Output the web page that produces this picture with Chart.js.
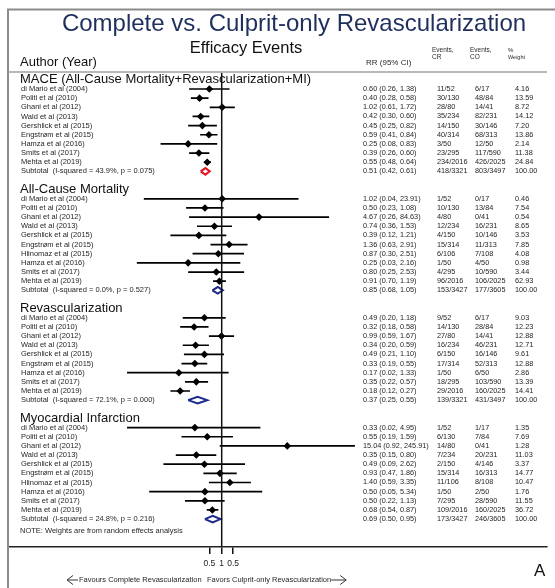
<!DOCTYPE html>
<html lang="en">
  <head>
    <meta charset="UTF-8" />
    <title>Complete vs. Culprit-only Revascularization</title>
    <style>
      body { margin: 0; background: #fff; }
      #wrap { width: 555px; height: 588px; }
    </style>
  </head>
  <body>
    <div id="wrap"><canvas id="myChart" width="555" height="588"></canvas></div>

    <script src="https://cdn.jsdelivr.net/npm/chart.js"></script>
    <script>
      // ---- data ----
      const sectionTitles = [
        "MACE (All-Cause Mortality+Revascularization+MI)",
        "All-Cause Mortality",
        "Revascularization",
        "Myocardial Infarction",
      ];

      // MACE
      const maceAuthors = [
        "di Mario et al (2004)", "Politi et al (2010)", "Ghani et al (2012)", "Wald et al (2013)",
        "Gershlick et al (2015)", "Engstrøm et al (2015)", "Hamza et al (2016)", "Smits et al (2017)",
        "Mehta et al (2019)", "Subtotal  (I-squared = 43.9%, p = 0.075)",
      ];
      const maceRR = [0.6, 0.4, 1.02, 0.42, 0.45, 0.59, 0.25, 0.39, 0.55, 0.51];
      const maceLow = [0.26, 0.28, 0.61, 0.3, 0.25, 0.41, 0.08, 0.26, 0.48, 0.42];
      const maceHigh = [1.38, 0.58, 1.72, 0.6, 0.82, 0.84, 0.83, 0.6, 0.64, 0.61];
      const maceCR = ["11/52", "30/130", "28/80", "35/234", "14/150", "40/314", "3/50", "23/295", "234/2016", "418/3321"];
      const maceCO = ["6/17", "48/84", "14/41", "82/231", "30/146", "68/313", "12/50", "117/590", "426/2025", "803/3497"];
      const maceWeight = ["4.16", "13.59", "8.72", "14.12", "7.20", "13.86", "2.14", "11.38", "24.84", "100.00"];

      // All-cause mortality
      const mortAuthors = [
        "di Mario et al (2004)", "Politi et al (2010)", "Ghani et al (2012)", "Wald et al (2013)",
        "Gershlick et al (2015)", "Engstrøm et al (2015)", "Hlinomaz et al (2015)", "Hamza et al (2016)",
        "Smits et al (2017)", "Mehta et al (2019)", "Subtotal  (I-squared = 0.0%, p = 0.527)",
      ];
      const mortRR = [1.02, 0.5, 4.67, 0.74, 0.39, 1.36, 0.87, 0.25, 0.8, 0.91, 0.85];
      const mortLow = [0.04, 0.23, 0.26, 0.36, 0.12, 0.63, 0.3, 0.03, 0.25, 0.7, 0.68];
      const mortHigh = [23.91, 1.08, 84.63, 1.53, 1.21, 2.91, 2.51, 2.16, 2.53, 1.19, 1.05];
      const mortCR = ["1/52", "10/130", "4/80", "12/234", "4/150", "15/314", "6/106", "1/50", "4/295", "96/2016", "153/3427"];
      const mortCO = ["0/17", "13/84", "0/41", "16/231", "10/146", "11/313", "7/108", "4/50", "10/590", "106/2025", "177/3605"];
      const mortWeight = ["0.46", "7.54", "0.54", "8.65", "3.53", "7.85", "4.08", "0.98", "3.44", "62.93", "100.00"];

      // Revascularization
      const revAuthors = [
        "di Mario et al (2004)", "Politi et al (2010)", "Ghani et al (2012)", "Wald et al (2013)",
        "Gershlick et al (2015)", "Engstrøm et al (2015)", "Hamza et al (2016)", "Smits et al (2017)",
        "Mehta et al (2019)", "Subtotal  (I-squared = 72.1%, p = 0.000)",
      ];
      const revRR = [0.49, 0.32, 0.99, 0.34, 0.49, 0.33, 0.17, 0.35, 0.18, 0.37];
      const revLow = [0.2, 0.18, 0.59, 0.2, 0.21, 0.19, 0.02, 0.22, 0.12, 0.25];
      const revHigh = [1.18, 0.58, 1.67, 0.59, 1.1, 0.55, 1.33, 0.57, 0.27, 0.55];
      const revCR = ["9/52", "14/130", "27/80", "16/234", "6/150", "17/314", "1/50", "18/295", "29/2016", "139/3321"];
      const revCO = ["6/17", "28/84", "14/41", "46/231", "16/146", "52/313", "6/50", "103/590", "160/2025", "431/3497"];
      const revWeight = ["9.03", "12.23", "12.88", "12.71", "9.61", "12.88", "2.86", "13.39", "14.41", "100.00"];

      // Myocardial infarction
      const miAuthors = [
        "di Mario et al (2004)", "Politi et al (2010)", "Ghani et al (2012)", "Wald et al (2013)",
        "Gershlick et al (2015)", "Engstrøm et al (2015)", "Hlinomaz et al (2015)", "Hamza et al (2016)",
        "Smits et al (2017)", "Mehta et al (2019)", "Subtotal  (I-squared = 24.8%, p = 0.216)",
      ];
      const miRR = [0.33, 0.55, 15.04, 0.35, 0.49, 0.93, 1.4, 0.5, 0.5, 0.68, 0.69];
      const miLow = [0.02, 0.19, 0.92, 0.15, 0.09, 0.47, 0.59, 0.05, 0.22, 0.54, 0.5];
      const miHigh = [4.95, 1.59, 245.91, 0.8, 2.62, 1.86, 3.35, 5.34, 1.13, 0.87, 0.95];
      const miCR = ["1/52", "6/130", "14/80", "7/234", "2/150", "15/314", "11/106", "1/50", "7/295", "109/2016", "173/3427"];
      const miCO = ["1/17", "7/84", "0/41", "20/231", "4/146", "16/313", "8/108", "2/50", "28/590", "160/2025", "246/3605"];
      const miWeight = ["1.35", "7.69", "1.28", "11.03", "3.37", "14.77", "10.47", "1.76", "11.55", "36.72", "100.00"];

      const tickValues = [0.6, 1, 1.6];
      const tickLabels = ["0.5", "1", "0.5"];

      // ---- layout ----
      const FONT = '"Liberation Sans", Arial, sans-serif';
      const xMin = Math.pow(10, -3.835);
      const xMax = Math.pow(10, 5.838);
      const yMin = -0.75;
      const yMax = 51.05;

      const sections = [
        { authors: maceAuthors, rr: maceRR, low: maceLow, high: maceHigh, cr: maceCR, co: maceCO, w: maceWeight, color: "#e3151f" },
        { authors: mortAuthors, rr: mortRR, low: mortLow, high: mortHigh, cr: mortCR, co: mortCO, w: mortWeight, color: "#1b2a8a" },
        { authors: revAuthors, rr: revRR, low: revLow, high: revHigh, cr: revCR, co: revCO, w: revWeight, color: "#1b2a8a" },
        { authors: miAuthors, rr: miRR, low: miLow, high: miHigh, cr: miCR, co: miCO, w: miWeight, color: "#1b2a8a" },
      ];

      // work out which row each line of the table sits on
      const rows = [];
      let r = 0;
      sections.forEach((s, si) => {
        rows.push({ kind: "heading", row: r, text: sectionTitles[si] });
        s.authors.forEach((a, i) => {
          rows.push({
            kind: i === s.authors.length - 1 ? "subtotal" : "study",
            row: r + 1 + i,
            text: a,
            rr: s.rr[i], low: s.low[i], high: s.high[i],
            cr: s.cr[i], co: s.co[i], w: s.w[i],
            color: s.color,
          });
        });
        r += s.authors.length + 2;
      });
      const noteRow = r - 1 + 0.3;

      const ciData = [];
      const pointData = [];
      const diamondSets = [];
      rows.forEach((row) => {
        if (row.kind === "study") {
          ciData.push({ x: row.low, y: row.row }, { x: row.high, y: row.row }, { x: 1, y: null });
          pointData.push({ x: row.rr, y: row.row });
        } else if (row.kind === "subtotal") {
          diamondSets.push({
            data: [
              { x: row.low, y: row.row },
              { x: row.rr, y: row.row - 0.36 },
              { x: row.high, y: row.row },
              { x: row.rr, y: row.row + 0.36 },
              { x: row.low, y: row.row },
            ],
            showLine: true,
            borderColor: row.color,
            borderWidth: 2,
            pointRadius: 0,
            borderJoinStyle: "miter",
          });
        }
      });

      const fmt = (v) => v.toFixed(2);

      const forestText = {
        id: "forestText",
        afterDraw(chart) {
          const { ctx } = chart;
          const ys = chart.scales.y;
          ctx.save();

          // frame
          ctx.strokeStyle = "#8c8c8c";
          ctx.lineWidth = 2;
          ctx.beginPath();
          ctx.moveTo(8, 588);
          ctx.lineTo(8, 9.5);
          ctx.lineTo(555, 9.5);
          ctx.stroke();

          // header separator
          ctx.strokeStyle = "#a0a0a0";
          ctx.lineWidth = 1.5;
          ctx.beginPath();
          ctx.moveTo(8, 72);
          ctx.lineTo(547, 72);
          ctx.stroke();

          ctx.textBaseline = "middle";
          ctx.textAlign = "center";
          ctx.fillStyle = "#1f2f5e";
          ctx.font = `24px ${FONT}`;
          ctx.fillText("Complete vs. Culprit-only Revascularization", 294, 24);

          ctx.fillStyle = "#111";
          ctx.font = `16.5px ${FONT}`;
          ctx.fillText("Efficacy Events", 246, 48);

          ctx.textAlign = "left";
          ctx.font = `13px ${FONT}`;
          ctx.fillText("Author (Year)", 20, 62);

          ctx.fillStyle = "#2a2a2a";
          ctx.font = `8px ${FONT}`;
          ctx.fillText("RR (95% CI)", 366, 63);
          ctx.font = `6.5px ${FONT}`;
          ctx.fillText("Events,", 432, 50);
          ctx.fillText("CR", 432, 57);
          ctx.fillText("Events,", 470, 50);
          ctx.fillText("CO", 470, 57);
          ctx.font = `6px ${FONT}`;
          ctx.fillText("%", 508, 50);
          ctx.font = `5.5px ${FONT}`;
          ctx.fillText("Weight", 508, 57);

          rows.forEach((row) => {
            const py = ys.getPixelForValue(row.row);
            if (row.kind === "heading") {
              ctx.fillStyle = "#111";
              ctx.font = `13px ${FONT}`;
              ctx.fillText(row.text, 20, py);
              return;
            }
            ctx.fillStyle = "#262626";
            ctx.font = `7.5px ${FONT}`;
            ctx.fillText(row.text, 21, py);
            ctx.font = `7.3px ${FONT}`;
            ctx.fillText(`${fmt(row.rr)} (${fmt(row.low)}, ${fmt(row.high)})`, 363, py);
            ctx.fillText(row.cr, 437, py);
            ctx.fillText(row.co, 475, py);
            ctx.fillText(row.w, 515, py);
          });

          ctx.font = `7.5px ${FONT}`;
          ctx.fillText("NOTE: Weights are from random effects analysis", 20, ys.getPixelForValue(noteRow));

          // bottom direction labels with arrows
          const ay = 580;
          ctx.font = `7.5px ${FONT}`;
          const leftText = "Favours Complete Revascularization";
          const rightText = "Favors Culprit-only Revascularization";
          ctx.fillText(leftText, 79, ay);
          const rx = 207;
          ctx.fillText(rightText, rx, ay);
          const rEnd = rx + ctx.measureText(rightText).width;
          ctx.strokeStyle = "#333";
          ctx.lineWidth = 1;
          ctx.beginPath();
          ctx.moveTo(78, ay);
          ctx.lineTo(67, ay);
          ctx.moveTo(73, ay - 4.5);
          ctx.lineTo(67, ay);
          ctx.lineTo(73, ay + 4.5);
          ctx.moveTo(rEnd, ay);
          ctx.lineTo(rEnd + 15, ay);
          ctx.moveTo(rEnd + 9, ay - 4.5);
          ctx.lineTo(rEnd + 15, ay);
          ctx.lineTo(rEnd + 9, ay + 4.5);
          ctx.stroke();

          ctx.fillStyle = "#111";
          ctx.font = `17px ${FONT}`;
          ctx.fillText("A", 534, 571);

          ctx.restore();
        },
      };

      const ctx = document.getElementById("myChart");
      new Chart(ctx, {
        type: "scatter",
        data: {
          datasets: [
            {
              data: [{ x: 1, y: yMin }, { x: 1, y: yMax }],
              showLine: true,
              borderColor: "#111",
              borderWidth: 1.5,
              pointRadius: 0,
            },
            {
              data: ciData,
              showLine: true,
              spanGaps: false,
              borderColor: "#000",
              borderWidth: 1.7,
              pointRadius: 0,
            },
            {
              data: pointData,
              pointStyle: "rectRot",
              pointRadius: 3.8,
              backgroundColor: "#000",
              borderColor: "#000",
              borderWidth: 0,
            },
            ...diamondSets,
          ],
        },
        options: {
          responsive: false,
          animation: false,
          layout: { padding: { left: 8, right: 8, top: 73, bottom: 0 } },
          plugins: { legend: { display: false }, tooltip: { enabled: false } },
          scales: {
            x: {
              type: "logarithmic",
              min: xMin,
              max: xMax,
              bounds: "data",
              afterBuildTicks: (scale) => {
                scale.ticks = tickValues.map((v) => ({ value: v }));
              },
              afterFit: (scale) => {
                scale.height = 41;
              },
              ticks: {
                callback: (v, i) => tickLabels[i],
                autoSkip: false,
                maxRotation: 0,
                padding: 5,
                color: "#222",
                font: { family: FONT, size: 8.5 },
              },
              grid: { drawOnChartArea: false, drawTicks: true, tickLength: 7, color: "#111", lineWidth: 1.5 },
              border: { display: true, color: "#222", width: 1.5 },
            },
            y: {
              type: "linear",
              min: yMin,
              max: yMax,
              bounds: "data",
              reverse: true,
              display: false,
            },
          },
        },
        plugins: [forestText],
      });
    </script>
  </body>
</html>
